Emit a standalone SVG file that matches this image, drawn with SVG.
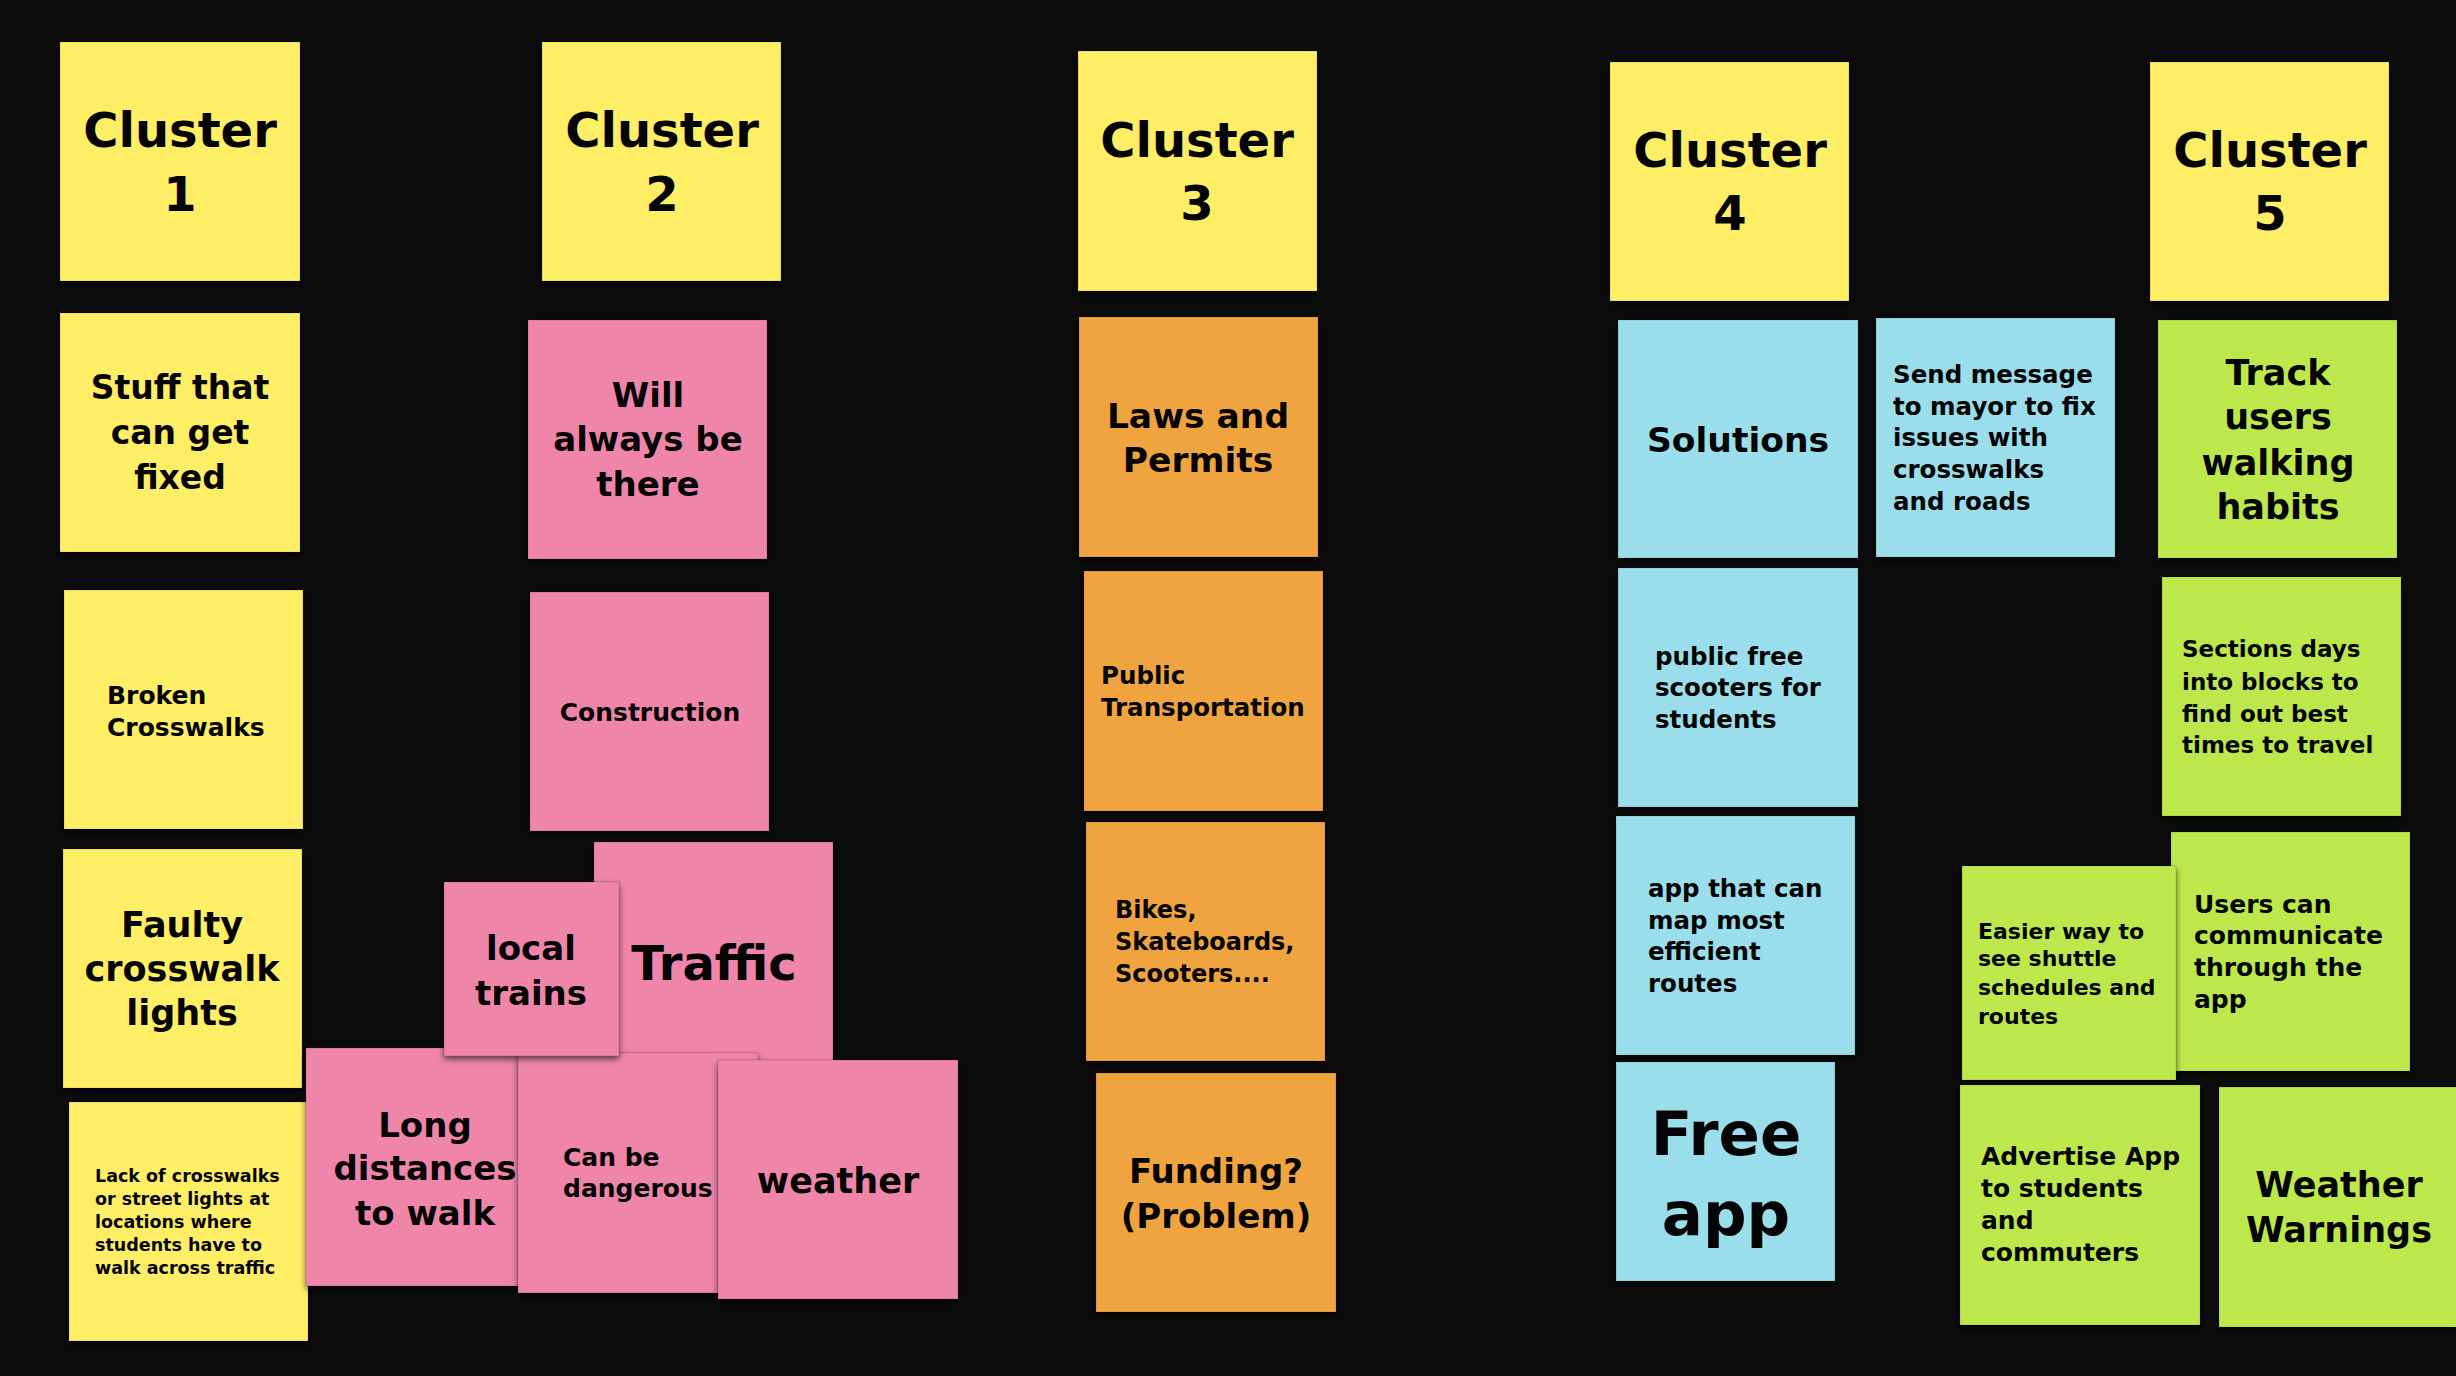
<svg xmlns="http://www.w3.org/2000/svg" width="2456" height="1376" viewBox="0 0 2456 1376">
<defs>
<filter id="sh" x="-10%" y="-10%" width="120%" height="125%">
<feDropShadow dx="0" dy="3" stdDeviation="3" flood-color="#000" flood-opacity="0.6"/>
</filter>
<style>
.n{filter:url(#sh);stroke:#00000022;stroke-width:1}
.y{fill:#FEEE66}
.p{fill:#EF86AA}
.o{fill:#F0A43F}
.b{fill:#99DEEA}
.g{fill:#BDE84B}
text{font-family:"DejaVu Sans","Liberation Sans",sans-serif;font-weight:700;fill:#050505}
.c{text-anchor:middle}
.h{font-size:48px}
</style>
</defs>
<rect width="2456" height="1376" fill="#0B0B0B"/>
<g id="connectors"/>

<g id="cluster1"><rect class="n y" x="60" y="42" width="240" height="239"/>
<text class="c h" x="180" y="147">Cluster</text><text class="c h" x="180" y="211">1</text></g>

<g id="cluster2"><rect class="n y" x="542" y="42" width="239" height="239"/>
<text class="c h" x="662" y="147">Cluster</text><text class="c h" x="662" y="211">2</text></g>

<g id="stuff"><rect class="n y" x="60" y="313" width="240" height="239"/>
<text class="c" font-size="33" x="180" y="399">Stuff that</text><text class="c" font-size="33" x="180" y="444">can get</text><text class="c" font-size="33" x="180" y="489">fixed</text></g>

<g id="will"><rect class="n p" x="528" y="320" width="239" height="239"/>
<text class="c" font-size="34" x="648" y="407">Will</text><text class="c" font-size="34" x="648" y="451">always be</text><text class="c" font-size="34" x="648" y="496">there</text></g>

<g id="broken"><rect class="n y" x="64" y="590" width="239" height="239"/>
<text font-size="25" x="107" y="704">Broken</text><text font-size="25" x="107" y="736">Crosswalks</text></g>

<g id="construction"><rect class="n p" x="530" y="592" width="239" height="239"/>
<text class="c" font-size="25" x="650" y="721">Construction</text></g>

<g id="faulty"><rect class="n y" x="63" y="849" width="239" height="239"/>
<text class="c" font-size="35" x="182" y="937">Faulty</text><text class="c" font-size="35" x="182" y="981">crosswalk</text><text class="c" font-size="35" x="182" y="1025">lights</text></g>

<g id="lack"><rect class="n y" x="69" y="1102" width="239" height="239"/>
<text font-size="17.5" x="95" y="1182">Lack of crosswalks</text><text font-size="17.5" x="95" y="1205">or street lights at</text><text font-size="17.5" x="95" y="1228">locations where</text><text font-size="17.5" x="95" y="1251">students have to</text><text font-size="17.5" x="95" y="1274">walk across traffic</text></g>

<g id="traffic"><rect class="n p" x="594" y="842" width="239" height="239"/>
<text class="c" font-size="48" x="714" y="980">Traffic</text></g>

<g id="long"><rect class="n p" x="306" y="1048" width="239" height="238"/>
<text class="c" font-size="34" x="425" y="1137">Long</text><text class="c" font-size="34" x="425" y="1180">distances</text><text class="c" font-size="34" x="425" y="1225">to walk</text></g>

<g id="dangerous"><rect class="n p" x="518" y="1053" width="240" height="240"/>
<text font-size="25" x="563" y="1166">Can be</text><text font-size="25" x="563" y="1197">dangerous</text></g>

<g id="weather"><rect class="n p" x="718" y="1060" width="240" height="239"/>
<text class="c" font-size="35" x="838" y="1193">weather</text></g>

<g id="local"><rect class="n p" x="444" y="882" width="175" height="174"/>
<text class="c" font-size="34" x="531" y="960">local</text><text class="c" font-size="34" x="531" y="1005">trains</text></g>

<g id="cluster3"><rect class="n y" x="1078" y="51" width="239" height="240"/>
<text class="c h" x="1197" y="157">Cluster</text><text class="c h" x="1197" y="220">3</text></g>

<g id="laws"><rect class="n o" x="1079" y="317" width="239" height="240"/>
<text class="c" font-size="34.5" x="1198" y="428">Laws and</text><text class="c" font-size="34.5" x="1198" y="472">Permits</text></g>

<g id="public"><rect class="n o" x="1084" y="571" width="239" height="240"/>
<text font-size="24.5" x="1101" y="684">Public</text><text font-size="24.5" x="1101" y="716">Transportation</text></g>

<g id="bikes"><rect class="n o" x="1086" y="822" width="239" height="239"/>
<text font-size="24" x="1115" y="918">Bikes,</text><text font-size="24" x="1115" y="950">Skateboards,</text><text font-size="24" x="1115" y="982">Scooters....</text></g>

<g id="funding"><rect class="n o" x="1096" y="1073" width="240" height="239"/>
<text class="c" font-size="34" x="1216" y="1183">Funding?</text><text class="c" font-size="34" x="1216" y="1228">(Problem)</text></g>

<g id="cluster4"><rect class="n y" x="1610" y="62" width="239" height="239"/>
<text class="c h" x="1730" y="167">Cluster</text><text class="c h" x="1730" y="230">4</text></g>

<g id="cluster5"><rect class="n y" x="2150" y="62" width="239" height="239"/>
<text class="c h" x="2270" y="167">Cluster</text><text class="c h" x="2270" y="230">5</text></g>

<g id="solutions"><rect class="n b" x="1618" y="320" width="240" height="238"/>
<text class="c" font-size="34.5" x="1738" y="452">Solutions</text></g>

<g id="send"><rect class="n b" x="1876" y="318" width="239" height="239"/>
<text font-size="24.5" x="1893" y="383">Send message</text><text font-size="24.5" x="1893" y="415">to mayor to fix</text><text font-size="24.5" x="1893" y="446">issues with</text><text font-size="24.5" x="1893" y="478">crosswalks</text><text font-size="24.5" x="1893" y="510">and roads</text></g>

<g id="track"><rect class="n g" x="2158" y="320" width="239" height="238"/>
<text class="c" font-size="35" x="2278" y="385">Track</text><text class="c" font-size="35" x="2278" y="429">users</text><text class="c" font-size="35" x="2278" y="475">walking</text><text class="c" font-size="35" x="2278" y="519">habits</text></g>

<g id="publicfree"><rect class="n b" x="1618" y="568" width="240" height="239"/>
<text font-size="24.5" x="1655" y="665">public free</text><text font-size="24.5" x="1655" y="696">scooters for</text><text font-size="24.5" x="1655" y="728">students</text></g>

<g id="sections"><rect class="n g" x="2162" y="577" width="239" height="239"/>
<text font-size="23" x="2182" y="657">Sections days</text><text font-size="23" x="2182" y="690">into blocks to</text><text font-size="23" x="2182" y="722">find out best</text><text font-size="23" x="2182" y="753">times to travel</text></g>

<g id="appmap"><rect class="n b" x="1616" y="816" width="239" height="239"/>
<text font-size="24.5" x="1648" y="897">app that can</text><text font-size="24.5" x="1648" y="929">map most</text><text font-size="24.5" x="1648" y="960">efficient</text><text font-size="24.5" x="1648" y="992">routes</text></g>

<g id="freeapp"><rect class="n b" x="1616" y="1062" width="219" height="219"/>
<text class="c" font-size="61" x="1726" y="1155">Free</text><text class="c" font-size="61" x="1726" y="1235">app</text></g>

<g id="users"><rect class="n g" x="2171" y="832" width="239" height="239"/>
<text font-size="25" x="2194" y="913">Users can</text><text font-size="25" x="2194" y="944">communicate</text><text font-size="25" x="2194" y="976">through the</text><text font-size="25" x="2194" y="1008">app</text></g>

<g id="easier"><rect class="n g" x="1962" y="866" width="214" height="214"/>
<text font-size="22" x="1978" y="939">Easier way to</text><text font-size="22" x="1978" y="966">see shuttle</text><text font-size="22" x="1978" y="995">schedules and</text><text font-size="22" x="1978" y="1024">routes</text></g>

<g id="advertise"><rect class="n g" x="1960" y="1085" width="240" height="240"/>
<text font-size="25" x="1981" y="1165">Advertise App</text><text font-size="25" x="1981" y="1197">to students</text><text font-size="25" x="1981" y="1229">and</text><text font-size="25" x="1981" y="1261">commuters</text></g>

<g id="weatherwarnings"><rect class="n g" x="2219" y="1087" width="240" height="240"/>
<text class="c" font-size="35" x="2339" y="1197">Weather</text><text class="c" font-size="35" x="2339" y="1242">Warnings</text></g>
</svg>
